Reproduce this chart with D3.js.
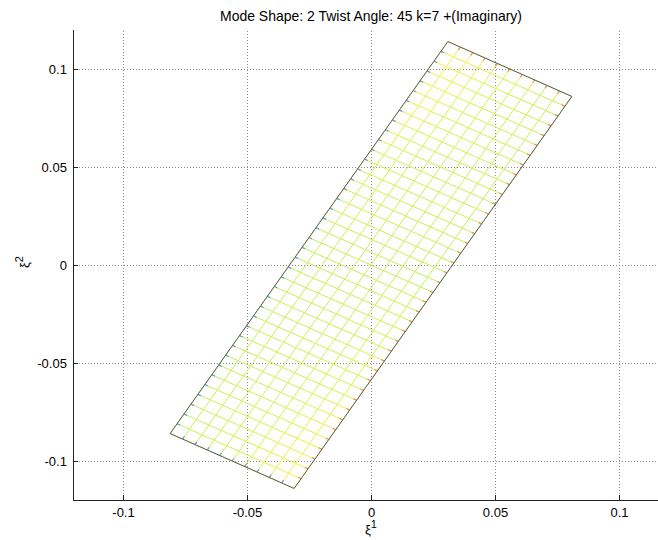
<!DOCTYPE html>
<html><head><meta charset="utf-8">
<script src="https://cdn.jsdelivr.net/npm/d3@7"></script>
<style>
html,body{margin:0;padding:0;background:#fff;}
svg text{font-family:"Liberation Sans",Arial,Helvetica,sans-serif;fill:#000;}
</style></head>
<body><svg id="c" width="658" height="540"></svg>
<script>
// ---- data ----
const title = "Mode Shape: 2 Twist Angle: 45 k=7 +(Imaginary)";
const xTicks = [-0.1, -0.05, 0, 0.05, 0.1];
const yTicks = [-0.1, -0.05, 0, 0.05, 0.1];
const xTickLabels = ["-0.1", "-0.05", "0", "0.05", "0.1"];
const yTickLabels = ["-0.1", "-0.05", "0", "0.05", "0.1"];
const xDomain = [-0.12, 0.12];
const yDomain = [-0.12, 0.12];
// plate corners (ξ1, ξ2): bottom-left, bottom-right, top-right, top-left
const cornerBL = [-0.081, -0.086];
const cornerBR = [-0.031, -0.114];
const cornerTR = [0.081, 0.086];
const cornerTL = [0.031, 0.114];
const nShort = 10;  // divisions along short edge
const nLong = 40;   // divisions along long edge
// colour level (rows: bottom, middle, top of plate; cols: left, centre, right edge)
const levelBottom = [0.05, 0.4, 1.0];
const levelMiddle = [0.05, 0.05, 0.05];
const levelTop = [1.0, 0.4, 0.05];

// ---- drawing ----
const svg = d3.select("#c");
const x = d3.scaleLinear().domain(xDomain).range([73.4, 668.6]);
const y = d3.scaleLinear().domain(yDomain).range([500.2, 29.8]);
const col = d3.scaleLinear().domain([0, 1]).range(["#c2f058", "#f8f43a"]).interpolate(d3.interpolateRgb);

// grid
const grid = svg.append("g");
xTicks.forEach(t => grid.append("line").attr("x1", x(t)).attr("x2", x(t)).attr("y1", y(yDomain[0])).attr("y2", y(yDomain[1]))
  .attr("stroke", "#8a8a8a").attr("stroke-width", 1).attr("stroke-dasharray", "1,2").attr("shape-rendering", "crispEdges"));
yTicks.forEach(t => grid.append("line").attr("y1", y(t)).attr("y2", y(t)).attr("x1", x(xDomain[0])).attr("x2", x(xDomain[1]))
  .attr("stroke", "#8a8a8a").attr("stroke-width", 1).attr("stroke-dasharray", "1,2").attr("shape-rendering", "crispEdges"));

// plate mesh
function P(u, v) { // u along short edge (0 left edge -> 1 right edge), v along long edge (0 bottom -> 1 top)
  const bx = cornerBL[0] + (cornerBR[0] - cornerBL[0]) * u;
  const by = cornerBL[1] + (cornerBR[1] - cornerBL[1]) * u;
  const tx = cornerTL[0] + (cornerTR[0] - cornerTL[0]) * u;
  const ty = cornerTL[1] + (cornerTR[1] - cornerTL[1]) * u;
  return [bx + (tx - bx) * v, by + (ty - by) * v];
}
function rowLevel(row, u) {
  return u < 0.5 ? row[0] + (row[1] - row[0]) * (u / 0.5) : row[1] + (row[2] - row[1]) * ((u - 0.5) / 0.5);
}
function level(u, v) {
  const a = rowLevel(levelBottom, u), b = rowLevel(levelMiddle, u), c = rowLevel(levelTop, u);
  return v < 0.5 ? a + (b - a) * (v / 0.5) : b + (c - b) * ((v - 0.5) / 0.5);
}
const segs = [];
for (let j = 0; j <= nLong; j++) {
  const v = j / nLong;
  for (let i = 0; i < nShort; i++) {
    const u0 = i / nShort, u1 = (i + 1) / nShort;
    segs.push({ a: P(u0, v), b: P(u1, v), c: level((u0 + u1) / 2, v) });
  }
}
for (let i = 0; i <= nShort; i++) {
  const u = i / nShort;
  for (let j = 0; j < nLong; j++) {
    const v0 = j / nLong, v1 = (j + 1) / nLong;
    segs.push({ a: P(u, v0), b: P(u, v1), c: level(u, (v0 + v1) / 2) });
  }
}
svg.append("g").selectAll("line").data(segs).join("line")
  .attr("x1", d => x(d.a[0])).attr("y1", d => y(d.a[1]))
  .attr("x2", d => x(d.b[0])).attr("y2", d => y(d.b[1]))
  .attr("stroke", d => col(d.c)).attr("stroke-width", 1);

// edge end colour dots
const dots = [];
for (let j = 1; j < nLong; j++) { dots.push({ p: P(0, j / nLong), q: P(0.025, j / nLong), c: "#5d9be0" }); dots.push({ p: P(1, j / nLong), q: P(0.975, j / nLong), c: "#f08a62" }); }
for (let i = 1; i < nShort; i++) { dots.push({ p: P(i / nShort, 0), q: P(i / nShort, 0.007), c: "#5d9be0" }); dots.push({ p: P(i / nShort, 1), q: P(i / nShort, 0.993), c: "#f08a62" }); }
svg.append("g").selectAll("line").data(dots).join("line")
  .attr("x1", d => x(d.p[0])).attr("y1", d => y(d.p[1]))
  .attr("x2", d => x(d.q[0])).attr("y2", d => y(d.q[1]))
  .attr("stroke", d => d.c).attr("stroke-width", 1.2);

// outline
const outline = [cornerBL, cornerBR, cornerTR, cornerTL, cornerBL];
svg.append("path").attr("d", d3.line().x(d => x(d[0])).y(d => y(d[1]))(outline))
  .attr("fill", "none").attr("stroke", "#5a5a5a").attr("stroke-width", 1);

// axes
const xAxis = d3.axisBottom(x).tickValues(xTicks).tickFormat((d, i) => xTickLabels[i]).tickSize(0).tickPadding(0);
const yAxis = d3.axisLeft(y).tickValues(yTicks).tickFormat((d, i) => yTickLabels[i]).tickSize(0).tickPadding(0);
const gx = svg.append("g").attr("transform", `translate(0,${y(yDomain[0])})`).call(xAxis);
gx.select(".domain").remove();
gx.selectAll("text").attr("font-size", 13).attr("dy", null).attr("y", 16.5).attr("font-family", "Liberation Sans, Arial, sans-serif");
const gy = svg.append("g").attr("transform", `translate(${x(xDomain[0])},0)`).call(yAxis);
gy.select(".domain").remove();
gy.selectAll("text").attr("font-size", 13).attr("x", -6.5).attr("dy", "0.35em").attr("font-family", "Liberation Sans, Arial, sans-serif");

// inward tick marks
xTicks.forEach(t => svg.append("line").attr("x1", x(t)).attr("x2", x(t)).attr("y1", y(yDomain[0])).attr("y2", y(yDomain[0]) - 5)
  .attr("stroke", "#222").attr("stroke-width", 1).attr("shape-rendering", "crispEdges"));
yTicks.forEach(t => svg.append("line").attr("y1", y(t)).attr("y2", y(t)).attr("x1", x(xDomain[0])).attr("x2", x(xDomain[0]) + 5)
  .attr("stroke", "#222").attr("stroke-width", 1).attr("shape-rendering", "crispEdges"));
// axis lines
svg.append("line").attr("x1", x(xDomain[0])).attr("x2", x(xDomain[0])).attr("y1", y(yDomain[1])).attr("y2", y(yDomain[0]))
  .attr("stroke", "#222").attr("stroke-width", 1).attr("shape-rendering", "crispEdges");
svg.append("line").attr("x1", x(xDomain[0])).attr("x2", x(xDomain[1])).attr("y1", y(yDomain[0])).attr("y2", y(yDomain[0]))
  .attr("stroke", "#222").attr("stroke-width", 1).attr("shape-rendering", "crispEdges");

// title
svg.append("text").attr("x", x(0)).attr("y", 20.5).attr("text-anchor", "middle").attr("font-size", 14.5)
  .attr("textLength", 302).attr("lengthAdjust", "spacingAndGlyphs").text(title);

// x label
const xl = svg.append("text").attr("x", x(0)).attr("y", 534).attr("text-anchor", "middle").attr("font-size", 13);
xl.append("tspan").text("ξ");
xl.append("tspan").attr("dy", -6).attr("font-size", 11).text("1");

// y label
const yl = svg.append("text").attr("transform", `translate(29,${y(0) - 3}) rotate(-90)`).attr("text-anchor", "middle").attr("font-size", 13);
yl.append("tspan").text("ξ");
yl.append("tspan").attr("dy", -6).attr("font-size", 11).text("2");
</script></body></html>
